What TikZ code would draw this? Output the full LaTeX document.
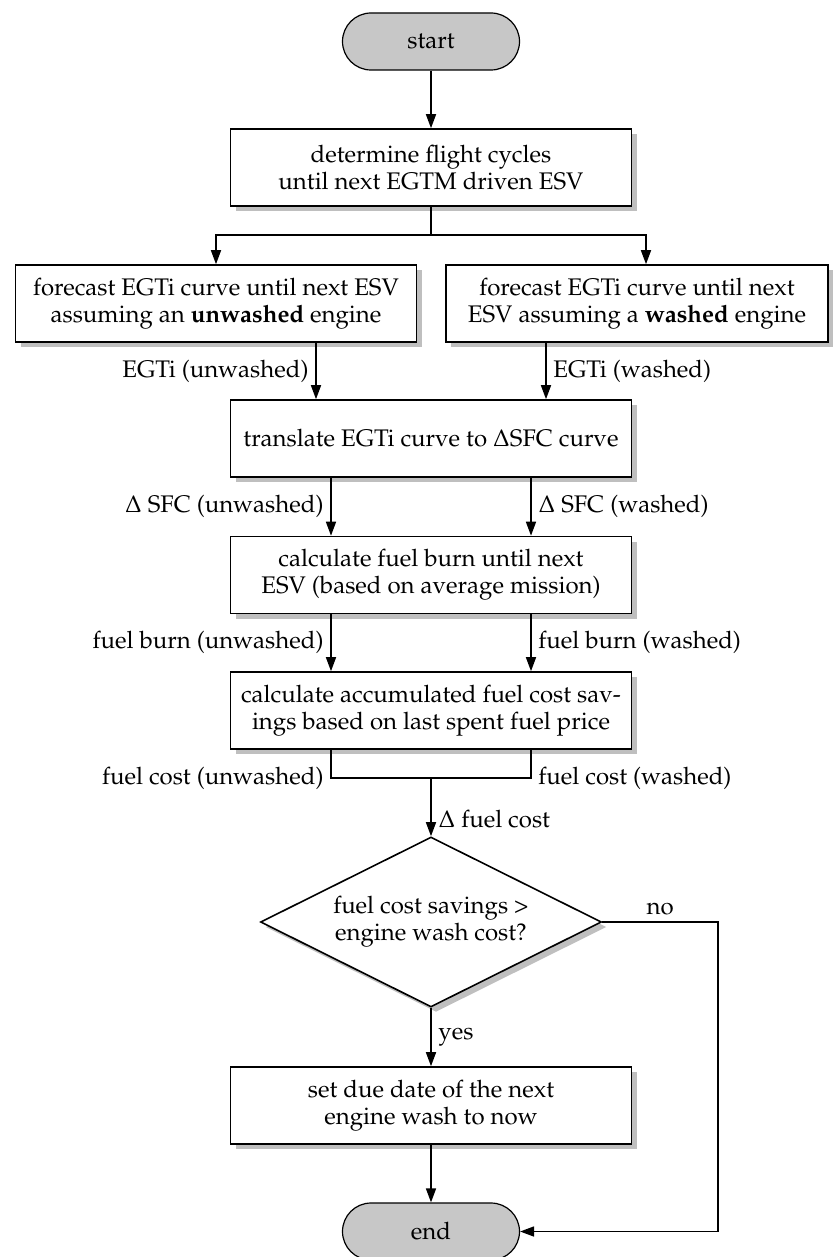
\documentclass[tikz,border=0pt]{standalone}
\usepackage[T1]{fontenc}
\usepackage{mathpazo}
\usetikzlibrary{arrows.meta, shapes.geometric, shadows}

\begin{document}
\begin{tikzpicture}[x=0.5pt, y=-0.5pt,
  font=\fontsize{12}{13.6}\selectfont,
  every node/.style={font=\fontsize{12}{13.6}\selectfont},
  flow/.style={line width=0.8pt, -{Triangle[length=7pt, width=5pt]}},
  link/.style={line width=0.8pt},
  terminal/.style={draw, line width=0.6pt, fill=black!22, rounded corners=14.25pt,
    minimum width=88.5pt, minimum height=28.5pt},
  boxshadow/.style={drop shadow={shadow xshift=2.5pt, shadow yshift=-2.5pt,
    fill=black!25, opacity=1}},
  process/.style={draw, line width=0.8pt, fill=white, align=center,
    minimum width=200.5pt, minimum height=38.5pt, boxshadow},
  decision/.style={draw, diamond, aspect=2, inner sep=0pt, line width=0.8pt,
    fill=white, align=center, minimum width=170.5pt, minimum height=85pt, boxshadow}
]

\useasboundingbox (0,0) rectangle (836,1257);

% Offsets of the side connectors (from the box centres)
\def\inoff{57.5pt}
\def\outoff{50pt}

% --- Nodes ---
\node[terminal] (start) at (431,41.5) {start};
\node[process] (cycles) at (431,167.5) {determine flight cycles\\until next EGTM driven ESV};
\node[process] (fcunw) at (216,303.5)
  {forecast EGTi curve until next ESV\\assuming an \textbf{unwashed} engine};
\node[process, minimum width=191pt] (fcwsh) at (637,303.5)
  {forecast EGTi curve until next\\ESV assuming a \textbf{washed} engine};
\node[process] (sfc) at (431,438.5) {translate EGTi curve to $\Delta$SFC curve};
\node[process] (burn) at (431,575) {calculate fuel burn until next\\ESV (based on average mission)};
\node[process] (cost) at (431,710.5)
  {calculate accumulated fuel cost sav-\\ings based on last spent fuel price};
\node[decision] (check) at (431,922) {fuel cost savings >\\engine wash cost?};
\node[process] (wash) at (431,1105.5) {set due date of the next\\engine wash to now};
\node[terminal] (end) at (431,1231.5) {end};

% Helper points
\coordinate (split) at (431,235);
\coordinate (join) at (431,778);
\coordinate (turn) at (718,922);

% --- Connectors ---
\draw[flow] (start) -- (cycles);
\draw[link] (cycles) -- (split);
\draw[flow] (split) -| (fcunw.north);
\draw[flow] (split) -| ([xshift=4.5pt]fcwsh.north);

\draw[flow] ([xshift=-\inoff]sfc.north |- fcunw.south) -- ([xshift=-\inoff]sfc.north)
  node[midway, left] {EGTi (unwashed)};
\draw[flow] ([xshift=\inoff]sfc.north |- fcwsh.south) -- ([xshift=\inoff]sfc.north)
  node[midway, right] {EGTi (washed)};

\draw[flow] ([xshift=-\outoff]sfc.south) -- ([xshift=-\outoff]burn.north)
  node[midway, left] {$\Delta$ SFC (unwashed)};
\draw[flow] ([xshift=\outoff]sfc.south) -- ([xshift=\outoff]burn.north)
  node[midway, right] {$\Delta$ SFC (washed)};

\draw[flow] ([xshift=-\outoff]burn.south) -- ([xshift=-\outoff]cost.north)
  node[midway, left] {fuel burn (unwashed)};
\draw[flow] ([xshift=\outoff]burn.south) -- ([xshift=\outoff]cost.north)
  node[midway, right] {fuel burn (washed)};

\draw[link] ([xshift=-\outoff]cost.south) -- ([xshift=-\outoff]cost.south |- join)
  node[left] {fuel cost (unwashed)}
  -- ([xshift=\outoff]cost.south |- join) node[right] {fuel cost (washed)}
  -- ([xshift=\outoff]cost.south);
\draw[flow] (join) -- (check.north) node[pos=0.7, right] {$\Delta$ fuel cost};

\draw[flow] (check) -- (wash) node[midway, right] {yes};
\draw[flow] (check.east) -- (turn) node[midway, above] {no} |- (end.east);
\draw[flow] (wash) -- (end);

\end{tikzpicture}
\end{document}
